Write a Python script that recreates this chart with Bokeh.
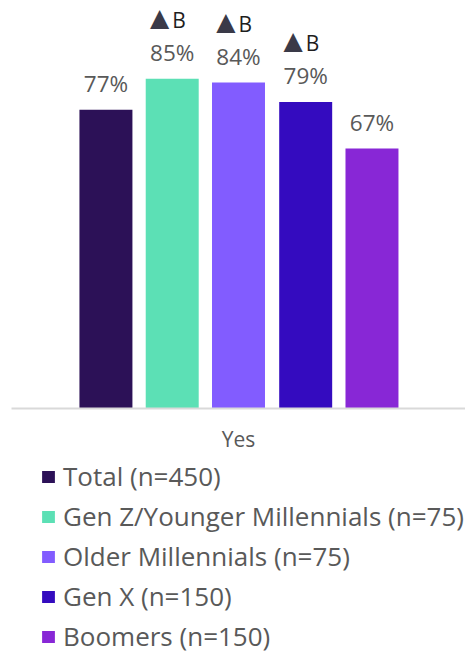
from bokeh.plotting import figure
from bokeh.layouts import column
from bokeh.models import ColumnDataSource, FactorRange, Range1d, Legend, LegendItem
from bokeh.transform import dodge
from bokeh.core.properties import value
from bokeh.embed import file_html
from bokeh.resources import INLINE

categories = ["Yes"]
series = ["Total (n=450)", "Gen Z/Younger Millennials (n=75)", "Older Millennials (n=75)",
          "Gen X (n=150)", "Boomers (n=150)"]
values = [77, 85, 84, 79, 67]
sig_letters = ["", "B", "B", "B", ""]
colors = ["#2C1157", "#5CE0B5", "#825CFF", "#340BBF", "#8827D6"]

offsets = [-0.292, -0.146, 0.0, 0.148, 0.294]
bar_w = 0.1167
FONT = "Open Sans"

p = figure(frame_width=454, frame_height=408, x_range=FactorRange(*categories),
           y_range=Range1d(0, 105.15), output_backend="svg", toolbar_location=None,
           min_border_left=11, min_border_right=0, min_border_top=0, min_border_bottom=0)
p.outline_line_color = None
p.xgrid.visible = False
p.ygrid.visible = False
p.yaxis.visible = False
p.xaxis.axis_line_color = "#D9D9D9"
p.xaxis.axis_line_width = 2
p.xaxis.major_tick_line_color = None
p.xaxis.minor_tick_line_color = None
p.xaxis.major_label_text_font = FONT
p.xaxis.major_label_text_font_size = "21px"
p.xaxis.major_label_text_color = "#595959"
p.xaxis.major_label_standoff = 10

# legend holder figure (its series sit outside its visible y range)
lg = figure(frame_width=465, frame_height=199, x_range=p.x_range, y_range=Range1d(200, 300),
            output_backend="svg", toolbar_location=None, x_axis_type=None, y_axis_type=None,
            min_border_left=0, min_border_right=0, min_border_top=0, min_border_bottom=0)
lg.outline_line_color = None
lg.xgrid.visible = False
lg.ygrid.visible = False

items = []
for name, v, sig, c, off in zip(series, values, sig_letters, colors, offsets):
    src = ColumnDataSource(dict(x=categories, top=[v], label=[f"{v}%"], sig=[sig],
                                tri=["\u25B2" if sig else ""]))
    xd = dodge("x", off, range=p.x_range)
    p.vbar(x=xd, top="top", width=bar_w, bottom=0, source=src, fill_color=c, line_color=None)
    p.text(x=xd, y="top", text="label", source=src,
           text_font=value(FONT), text_font_size="22.5px", text_color="#595959",
           text_align="center", text_baseline="alphabetic", y_offset=-26)
    p.text(x=xd, y="top", text="tri", source=src,
           text_font=value("DejaVu Sans"), text_font_size="25px", text_color="#3A3A48",
           text_align="right", text_baseline="alphabetic", y_offset=-61, x_offset=-3)
    p.text(x=xd, y="top", text="sig", source=src,
           text_font=value(FONT), text_font_size="21px", text_color="#1E1E1E",
           text_align="left", text_baseline="alphabetic", y_offset=-59, x_offset=0)
    r2 = lg.vbar(x=xd, top="top", bottom=0, width=0, source=src,
                 fill_color=c, line_color=None)
    items.append(LegendItem(label=name, renderers=[r2]))

legend = Legend(items=items, location=(40, -2), orientation="vertical",
                label_text_font=FONT, label_text_font_size="26px", label_text_color="#595959",
                glyph_width=16, glyph_height=15, label_height=40, spacing=0,
                label_standoff=7, padding=0, margin=0, border_line_color=None,
                background_fill_alpha=0)
lg.add_layout(legend, "center")

open("out.html", "w").write(file_html(column(p, lg, spacing=0), INLINE))
